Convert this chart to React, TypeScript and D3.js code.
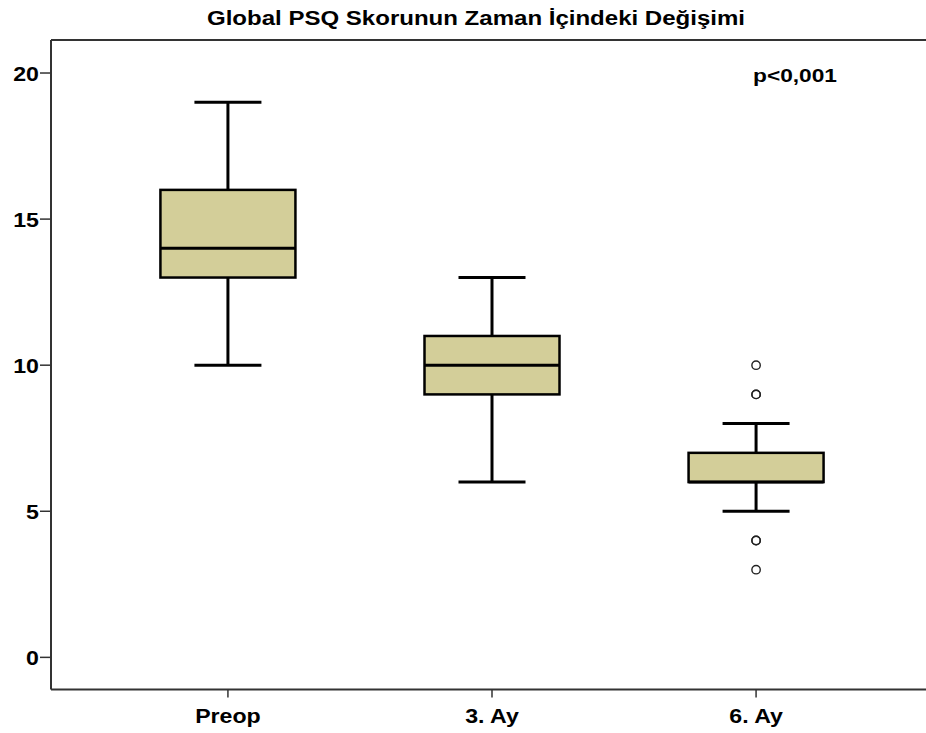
import React, { useEffect } from "react";
import * as d3 from "d3";

const categories = ["Preop", "3. Ay", "6. Ay"];
const whiskerLow = [10, 6, 5];
const q1 = [13, 9, 6];
const median = [14, 10, 6];
const q3 = [16, 11, 7];
const whiskerHigh = [19, 13, 8];
const outliers: number[][] = [[], [], [10, 9, 9, 4, 4, 3]];
const yTicks = [0, 5, 10, 15, 20];
const title = "Global PSQ Skorunun Zaman İçindeki Değişimi";
const note = "p<0,001";

const W = 926;
const H = 733;
const left = 51;
const top = 40;
const bottom = 689.5;
const right = 933;

const font = "'Liberation Sans', Arial, sans-serif";

function SText(props: { x: number; y: number; anchor: string; size: number; sx: number; children: React.ReactNode }) {
  return (
    <text
      transform={`translate(${props.x},${props.y}) scale(${props.sx},1)`}
      textAnchor={props.anchor as any}
      fontFamily={font}
      fontWeight="bold"
      fontSize={props.size}
      fill="#000"
    >
      {props.children}
    </text>
  );
}

export default function App() {
  useEffect(() => {
    document.body.style.margin = "0";
  }, []);
  const y = d3.scaleLinear().domain([-1.1, 21.13]).range([bottom, top]);
  const x = d3.scalePoint<string>().domain(categories).range([left, right]).padding(0.67);
  const boxW = 135;
  const capW = 67;
  const fill = "#D3CE99";
  return (
    <svg width={W} height={H} style={{ display: "block", background: "#fff" }}>
      <text x={207} y={25} textLength={538} lengthAdjust="spacingAndGlyphs" fontFamily={font} fontWeight="bold" fontSize={20} fill="#000">
        {title}
      </text>
      {/* frame */}
      <line x1={left} x2={right} y1={top} y2={top} stroke="#333" strokeWidth={2} />
      <line x1={left} x2={left} y1={top} y2={bottom} stroke="#333" strokeWidth={2} />
      <line x1={left} x2={right} y1={bottom} y2={bottom} stroke="#333" strokeWidth={2} />
      {yTicks.map((t) => (
        <g key={t}>
          <line x1={left - 11} x2={left} y1={y(t)} y2={y(t)} stroke="#333" strokeWidth={1.5} />
          <SText x={left - 12} y={y(t) + 7.5} anchor="end" size={20.5} sx={1.13}>
            {t}
          </SText>
        </g>
      ))}
      {categories.map((c) => (
        <g key={c}>
          <line x1={x(c)!} x2={x(c)!} y1={bottom} y2={bottom + 8} stroke="#333" strokeWidth={1.5} />
          <SText x={x(c)!} y={722.5} anchor="middle" size={20.5} sx={1.13}>
            {c}
          </SText>
        </g>
      ))}
      {categories.map((c, i) => {
        const cx = x(c)!;
        return (
          <g key={"b" + c}>
            <line x1={cx} x2={cx} y1={y(whiskerHigh[i])} y2={y(q3[i])} stroke="#000" strokeWidth={3} />
            <line x1={cx} x2={cx} y1={y(q1[i])} y2={y(whiskerLow[i])} stroke="#000" strokeWidth={3} />
            <line x1={cx - capW / 2} x2={cx + capW / 2} y1={y(whiskerHigh[i])} y2={y(whiskerHigh[i])} stroke="#000" strokeWidth={3} />
            <line x1={cx - capW / 2} x2={cx + capW / 2} y1={y(whiskerLow[i])} y2={y(whiskerLow[i])} stroke="#000" strokeWidth={3} />
            <rect x={cx - boxW / 2} y={y(q3[i])} width={boxW} height={y(q1[i]) - y(q3[i])} fill={fill} stroke="#000" strokeWidth={2.5} />
            <line x1={cx - boxW / 2} x2={cx + boxW / 2} y1={y(median[i])} y2={y(median[i])} stroke="#000" strokeWidth={3} />
            {outliers[i].map((o, j) => (
              <circle key={j} cx={cx} cy={y(o)} r={4.2} fill="none" stroke="#222" strokeWidth={1.4} />
            ))}
          </g>
        );
      })}
      <text x={753} y={81.5} textLength={84} lengthAdjust="spacingAndGlyphs" fontFamily={font} fontWeight="bold" fontSize={19} fill="#000">
        {note}
      </text>
    </svg>
  );
}
